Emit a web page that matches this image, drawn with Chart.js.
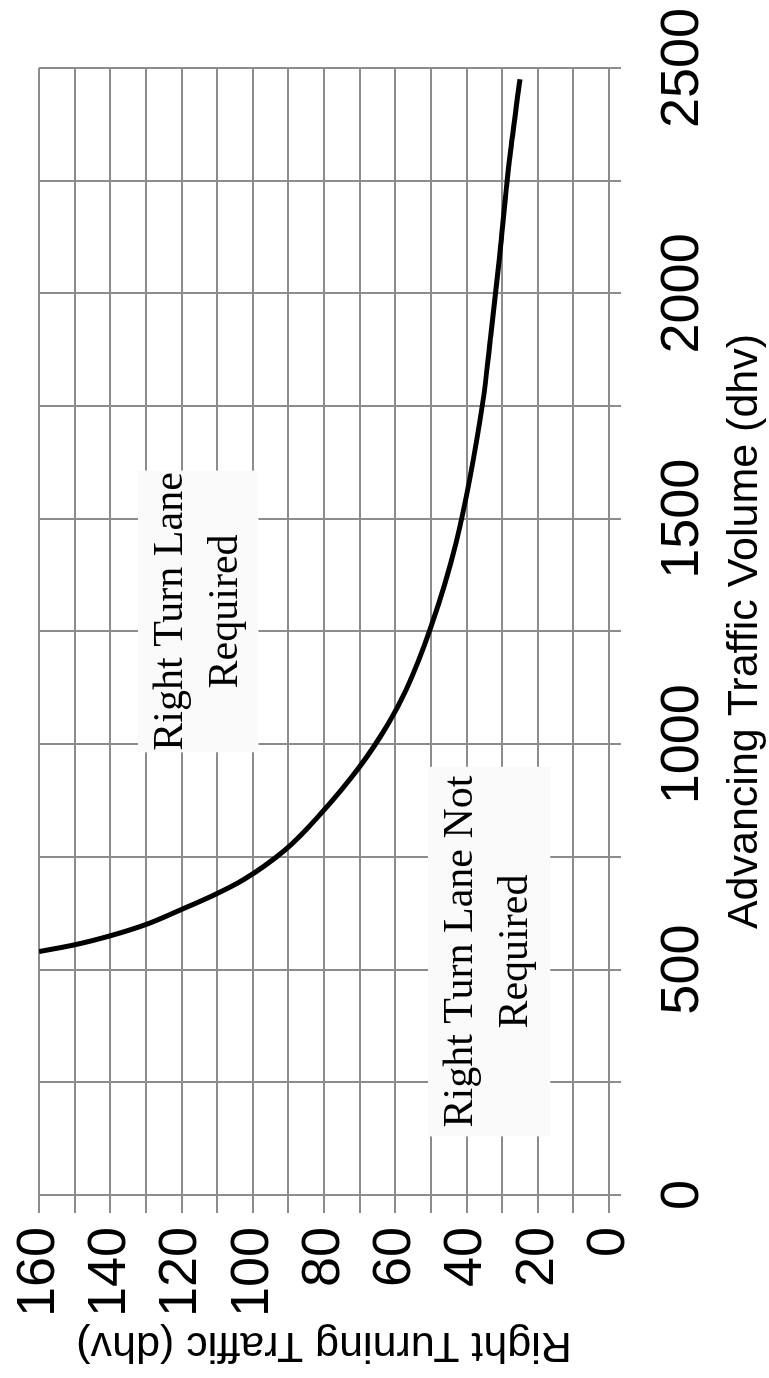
<!DOCTYPE html>
<html>
<head>
<meta charset="utf-8">
<title>Right Turn Lane Warrant</title>
<script src="https://cdn.jsdelivr.net/npm/chart.js@4/dist/chart.umd.min.js"></script>
<style>
  html, body { margin: 0; padding: 0; background: #fff; overflow: hidden; }
  /* chart is laid out landscape, then turned a quarter turn left like the scan */
  #wrap {
    position: absolute; left: 0; top: 0;
    width: 1378px; height: 769px;
    transform-origin: 0 0;
    transform: translateY(1378px) rotate(-90deg);
  }
</style>
</head>
<body>
<div id="wrap"><canvas id="warrant"></canvas></div>
<script>
// ── Data ──────────────────────────────────────────────────────
const volume    = [540, 555, 575, 600, 630, 665, 700, 765, 845, 950, 1045, 1120, 1260, 1445, 1760, 1900, 2060, 2305, 2475];
const rightTurn = [160, 150, 140, 130, 121, 111, 102.5, 91, 81, 70, 62, 57, 50, 43, 35.4, 33.3, 31, 27.8, 25];

const volumeLabels = [0, 500, 1000, 1500, 2000, 2500];
const turnLabels   = [0, 20, 40, 60, 80, 100, 120, 140, 160];

const noteRequired    = ["Right Turn Lane", "Required"];
const noteNotRequired = ["Right Turn Lane Not", "Required"];
// box extents in data units: [volume from, to], [turning from, to]
const noteRequiredBox    = [[982, 1607], [98.4, 132.2]];
const noteNotRequiredBox = [[130, 950], [16.5, 50.8]];

const GRID = "#8c8c8c";
const SANS = "'Liberation Sans', Arial, sans-serif";
const SERIF = "'Liberation Serif', 'Times New Roman', serif";

// ── Note boxes (drawn over the grid, under the curve) ─────────
const notesPlugin = {
  id: "notes",
  beforeDatasetsDraw(chart) {
    const { ctx, scales: { x, y } } = chart;
    const notes = [[noteRequiredBox, noteRequired], [noteNotRequiredBox, noteNotRequired]];
    ctx.save();
    for (const [box, lines] of notes) {
      const x1 = x.getPixelForValue(box[0][0]);
      const x2 = x.getPixelForValue(box[0][1]);
      const top = y.getPixelForValue(box[1][1]);
      const bot = y.getPixelForValue(box[1][0]);
      ctx.fillStyle = "#fafafa";
      ctx.fillRect(x1, top, x2 - x1, bot - top);
      ctx.fillStyle = "#000";
      ctx.font = "42px " + SERIF;
      ctx.textAlign = "center";
      ctx.textBaseline = "alphabetic";
      lines.forEach((t, i) => ctx.fillText(t, (x1 + x2) / 2, top + 44 + i * 55));
    }
    ctx.restore();
  },
};

// ── Chart ─────────────────────────────────────────────────────
new Chart(document.getElementById("warrant"), {
  type: "line",
  data: {
    datasets: [{
      data: volume.map((v, i) => ({ x: v, y: rightTurn[i] })),
      borderColor: "#000",
      borderWidth: 5,
      pointRadius: 0,
      cubicInterpolationMode: "monotone",
      fill: false,
    }],
  },
  options: {
    responsive: true,
    maintainAspectRatio: false,
    animation: false,
    layout: { padding: { top: 39, right: 68, left: 0, bottom: 0 } },
    plugins: { legend: { display: false }, tooltip: { enabled: false } },
    scales: {
      x: {
        type: "linear",
        min: 0, max: 2500,
        afterFit: (s) => { s.height = 160; s.paddingLeft = 0; s.paddingRight = 0; },
        afterBuildTicks: (s) => {
          s.ticks = [];
          for (let v = 0; v <= 2500; v += 250) s.ticks.push({ value: v });
        },
        grid: { color: GRID, lineWidth: 2, tickLength: 12, tickColor: GRID },
        border: { color: GRID, width: 2 },
        ticks: {
          autoSkip: false, maxRotation: 0, padding: 30, color: "#000",
          font: { family: SANS, size: 54 },
          callback: (v) => (volumeLabels.includes(v) ? String(v) : ""),
        },
        title: {
          display: true, text: "Advancing Traffic Volume (dhv)", color: "#000",
          font: { family: SANS, size: 43, lineHeight: 1.1 }, padding: 0,
        },
      },
      y: {
        min: 0, max: 160,
        afterFit: (s) => { s.width = 183; s.paddingTop = 0; s.paddingBottom = 0; },
        afterBuildTicks: (s) => {
          s.ticks = [];
          for (let v = 0; v <= 160; v += 10) s.ticks.push({ value: v });
        },
        grid: { color: GRID, lineWidth: 2, tickLength: 18, tickColor: GRID },
        border: { color: GRID, width: 2 },
        ticks: {
          autoSkip: false, padding: 14, color: "#000",
          font: { family: SANS, size: 54 },
          callback: (v) => (turnLabels.includes(v) ? String(v) : ""),
        },
        title: {
          display: true, text: "Right Turning Traffic (dhv)", color: "#000",
          font: { family: SANS, size: 43, lineHeight: 1.1 }, padding: { top: 9, bottom: 0 },
        },
      },
    },
  },
  plugins: [notesPlugin],
});
</script>
</body>
</html>
